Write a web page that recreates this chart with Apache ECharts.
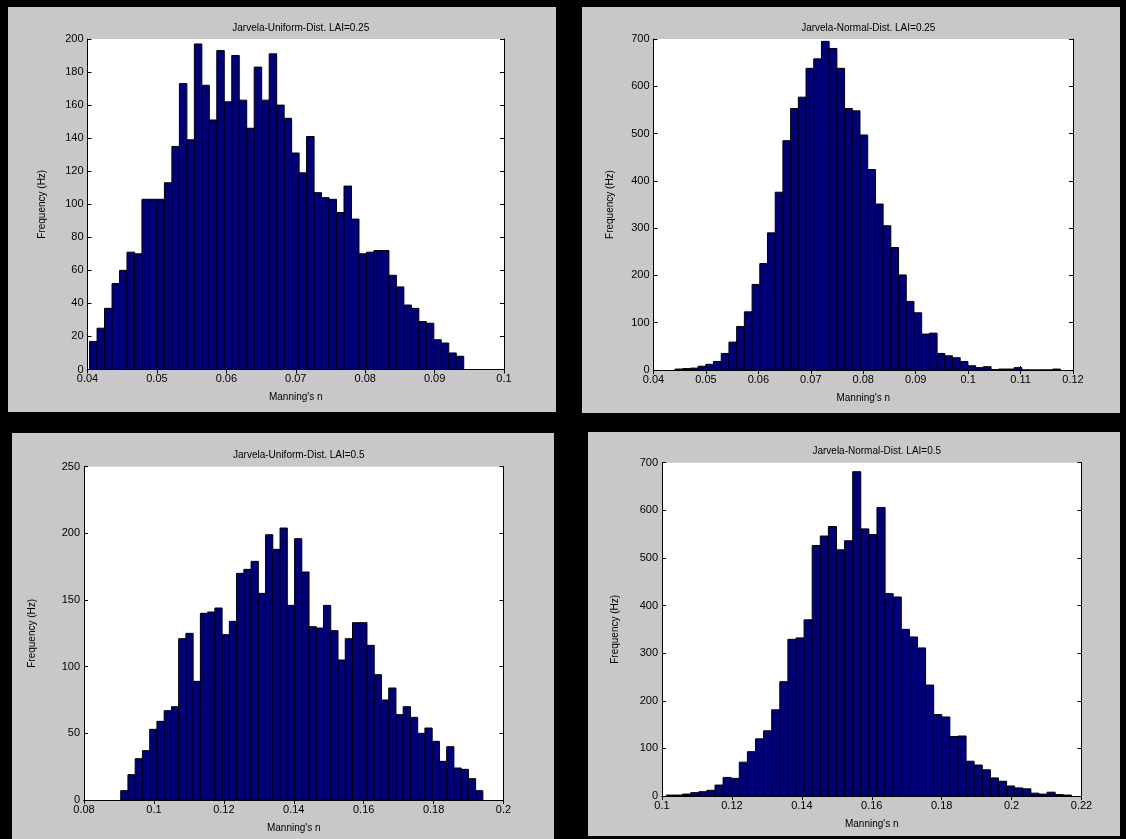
<!DOCTYPE html>
<html>
<head>
<meta charset="utf-8">
<script src="https://cdn.jsdelivr.net/npm/echarts@6/dist/echarts.min.js"></script>
<style>
  html, body { margin: 0; padding: 0; background: #000; }
  #chart { width: 1126px; height: 839px; }
</style>
</head>
<body>
<div id="chart"></div>
<script>
// ---- Data (histogram counts, 50 bins each) ----
const titles = [
  'Jarvela-Uniform-Dist. LAI=0.25',
  'Jarvela-Normal-Dist. LAI=0.25',
  'Jarvela-Uniform-Dist. LAI=0.5',
  'Jarvela-Normal-Dist. LAI=0.5'
];
// bin range [first edge, last edge] of each histogram
const binRangeU025 = [0.0403, 0.0942];
const binRangeN025 = [0.0441, 0.1176];
const binRangeU05  = [0.0905, 0.1941];
const binRangeN05  = [0.10126, 0.2171];

const countsU025 = [17, 25, 37, 52, 60, 71, 70, 103, 103, 103, 113, 135, 173, 139, 197, 172, 151, 193, 162, 190,
                    163, 146, 183, 163, 191, 160, 152, 131, 119, 141, 107, 104, 103, 95, 111, 91, 70, 71, 72, 72,
                    57, 50, 39, 37, 29, 28, 18, 16, 10, 8];
const countsN025 = [2, 3, 4, 8, 12, 18, 35, 59, 92, 123, 181, 225, 290, 376, 485, 553, 577, 638, 658, 695,
                    680, 638, 553, 548, 497, 424, 351, 305, 259, 201, 145, 121, 76, 78, 35, 30, 26, 18, 9, 5,
                    7, 1, 2, 2, 5, 0, 0, 0, 0, 2];
const countsU05  = [7, 19, 31, 37, 53, 59, 67, 70, 121, 125, 89, 140, 141, 144, 124, 134, 170, 173, 179, 155,
                    199, 188, 204, 146, 196, 171, 130, 129, 146, 127, 105, 121, 133, 133, 116, 94, 75, 84, 64, 70,
                    62, 50, 54, 44, 29, 40, 24, 23, 16, 7];
const countsN05  = [2, 2, 4, 7, 9, 12, 23, 39, 37, 71, 93, 120, 137, 181, 240, 329, 332, 370, 526, 546,
                    566, 517, 536, 681, 561, 549, 606, 425, 418, 350, 334, 311, 233, 171, 166, 125, 126, 73, 65, 55,
                    38, 31, 21, 17, 15, 6, 4, 8, 3, 2];

// axis scales
const xMin = [0.04, 0.04, 0.08, 0.10];
const xMax = [0.10, 0.12, 0.20, 0.22];
const xStep = [0.01, 0.01, 0.02, 0.02];
const yMax = [200, 700, 250, 700];
const yStep = [20, 100, 50, 100];
const xName = "Manning's n";
const yName = 'Frequency (Hz)';

const allCounts = [countsU025, countsN025, countsU05, countsN05];
const allRanges = [binRangeU025, binRangeN025, binRangeU05, binRangeN05];

// ---- Layout ----
const panels = [
  { x: 8,   y: 7,   w: 548, h: 405 },
  { x: 582, y: 7,   w: 538, h: 406 },
  { x: 12,  y: 433, w: 542, h: 406 },
  { x: 588, y: 432, w: 532, h: 404 }
];
const grids = [
  { left: 87.5, top: 39,    width: 416.5, height: 330.5 },
  { left: 653.5, top: 39,   width: 419.5, height: 331 },
  { left: 84,   top: 466.7, width: 419.5, height: 333.3 },
  { left: 662,  top: 462.7, width: 419.5, height: 333.3 }
];
const yNameGap = [40, 38, 47, 42];

const FONT = '"Liberation Sans", Arial, sans-serif';
const BAR = '#00007a';

const option = {
  animation: false,
  backgroundColor: '#000',
  graphic: [],
  title: [],
  grid: [],
  xAxis: [],
  yAxis: [],
  series: []
};

panels.forEach(p => {
  option.graphic.push({
    type: 'rect', z: -10, silent: true,
    shape: { x: p.x, y: p.y, width: p.w, height: p.h },
    style: { fill: '#c8c8c8' }
  });
});

grids.forEach((g, i) => {
  option.grid.push(Object.assign({
    show: true, backgroundColor: '#fff', borderWidth: 0, containLabel: false
  }, g));
  option.title.push({
    text: titles[i],
    left: g.left + g.width / 2,
    top: g.top - 21,
    textAlign: 'center',
    textStyle: { fontFamily: FONT, fontSize: 10, fontWeight: 'normal', color: '#000' }
  });
  const axLine = { show: true, lineStyle: { color: '#000', width: 1 } };
  // bottom x axis
  option.xAxis.push({
    type: 'value', gridIndex: i, position: 'bottom',
    min: xMin[i], max: xMax[i], interval: xStep[i],
    name: xName, nameLocation: 'middle', nameGap: 23,
    nameTextStyle: { fontFamily: FONT, fontSize: 10, color: '#000' },
    axisLine: axLine,
    axisTick: { show: true, inside: true, length: 4, lineStyle: { color: '#000' } },
    axisLabel: { fontFamily: FONT, fontSize: 11, color: '#000', margin: 4 },
    splitLine: { show: false }
  });
  // top x axis (ticks only)
  option.xAxis.push({
    type: 'value', gridIndex: i, position: 'top',
    min: xMin[i], max: xMax[i], interval: xStep[i],
    axisLine: axLine,
    axisTick: { show: true, inside: true, length: 4, lineStyle: { color: '#000' } },
    axisLabel: { show: false },
    splitLine: { show: false }
  });
  // left y axis
  option.yAxis.push({
    type: 'value', gridIndex: i, position: 'left',
    min: 0, max: yMax[i], interval: yStep[i],
    name: yName, nameLocation: 'middle', nameGap: yNameGap[i], nameRotate: 90,
    nameTextStyle: { fontFamily: FONT, fontSize: 10, color: '#000' },
    axisLine: axLine,
    axisTick: { show: true, inside: true, length: 4, lineStyle: { color: '#000' } },
    axisLabel: { fontFamily: FONT, fontSize: 11, color: '#000', margin: 4 },
    splitLine: { show: false }
  });
  // right y axis (ticks only)
  option.yAxis.push({
    type: 'value', gridIndex: i, position: 'right',
    min: 0, max: yMax[i], interval: yStep[i],
    axisLine: axLine,
    axisTick: { show: true, inside: true, length: 4, lineStyle: { color: '#000' } },
    axisLabel: { show: false },
    splitLine: { show: false }
  });

  const counts = allCounts[i];
  const r = allRanges[i];
  const w = (r[1] - r[0]) / counts.length;
  const data = counts.map((c, k) => [r[0] + k * w, r[0] + (k + 1) * w, c]);
  option.series.push({
    type: 'custom',
    xAxisIndex: 2 * i, yAxisIndex: 2 * i,
    encode: { x: [0, 1], y: 2 },
    data: data,
    clip: true,
    renderItem: function (params, api) {
      const p0 = api.coord([api.value(0), api.value(2)]);
      const p1 = api.coord([api.value(1), 0]);
      return {
        type: 'rect',
        shape: { x: p0[0], y: p0[1], width: p1[0] - p0[0], height: p1[1] - p0[1] },
        style: { fill: BAR, stroke: '#000', lineWidth: 1 }
      };
    }
  });
});

const chart = echarts.init(document.getElementById('chart'));
chart.setOption(option);
</script>
</body>
</html>
